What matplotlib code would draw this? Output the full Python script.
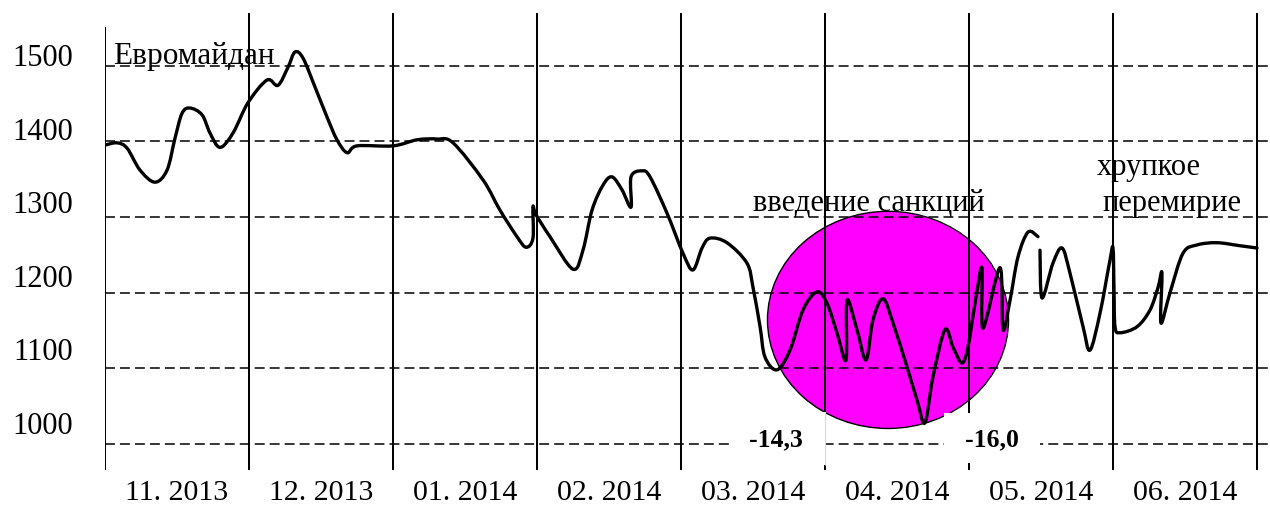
import numpy as np
import matplotlib
matplotlib.use("Agg")
import matplotlib.pyplot as plt
from matplotlib.path import Path
from matplotlib.patches import PathPatch, Ellipse, Rectangle

plt.rcParams['font.family'] = ['Liberation Serif', 'DejaVu Serif']

# подписи месяцев и оси значений
months = ["11. 2013", "12. 2013", "01. 2014", "02. 2014",
          "03. 2014", "04. 2014", "05. 2014", "06. 2014"]
y_ticks = [1000, 1100, 1200, 1300, 1400, 1500]

# время - в месяцах от начала 11.2013; первая часть кривой (до разрыва)
t1 = [0.000, 0.083, 0.153, 0.243, 0.347, 0.431, 0.486, 0.535, 0.590, 0.674,
      0.729, 0.799, 0.889, 0.993, 1.125, 1.201, 1.271, 1.319, 1.375, 1.458,
      1.542, 1.611, 1.681, 1.750, 2.000, 2.167, 2.306, 2.417, 2.625, 2.743,
      2.861, 2.924, 2.972, 2.972, 2.993, 3.090, 3.250, 3.319, 3.382, 3.458,
      3.521, 3.590, 3.653, 3.653, 3.729, 3.785, 3.903, 4.014, 4.083, 4.146,
      4.201, 4.319, 4.458, 4.500, 4.549, 4.583, 4.667, 4.757, 4.847, 4.944,
      5.014, 5.083, 5.146, 5.153, 5.222, 5.285, 5.333, 5.403, 5.472, 5.569,
      5.639, 5.694, 5.750, 5.833, 5.889, 5.951, 5.993, 6.042, 6.090, 6.097,
      6.215, 6.236, 6.285, 6.340, 6.410, 6.479]
v1 = [1395, 1398, 1391, 1362, 1346, 1362, 1404, 1437, 1444, 1435,
      1411, 1392, 1411, 1451, 1481, 1474, 1498, 1518, 1510, 1472,
      1432, 1402, 1385, 1394, 1394, 1402, 1403, 1398, 1349, 1309,
      1274, 1260, 1272, 1313, 1303, 1274, 1231, 1256, 1309, 1342,
      1353, 1336, 1313, 1353, 1361, 1353, 1305, 1252, 1230, 1259,
      1272, 1266, 1239, 1207, 1155, 1115, 1098, 1124, 1177, 1201,
      1186, 1147, 1111, 1190, 1151, 1111, 1164, 1192, 1160, 1102,
      1058, 1028, 1089, 1151, 1128, 1107, 1128, 1186, 1233, 1153,
      1233, 1151, 1190, 1247, 1280, 1274]

# вторая часть кривой (после разрыва)
t2 = [6.493, 6.507, 6.583, 6.646, 6.701, 6.792, 6.840, 6.910, 6.979, 7.000,
      7.007, 7.014, 7.049, 7.167, 7.257, 7.313, 7.340, 7.333, 7.396, 7.486,
      7.583, 7.722, 7.882, 8.000]
v2 = [1256, 1193, 1239, 1259, 1226, 1155, 1124, 1173, 1243, 1259,
      1204, 1155, 1147, 1155, 1177, 1207, 1226, 1160, 1200, 1252,
      1263, 1266, 1262, 1259]


def smooth_path(xs, ys):
    """сглаженная линия через точки (Катмулл-Ром -> кривые Безье)"""
    pts = np.column_stack([xs, ys]).astype(float)
    p = np.vstack([pts[0], pts, pts[-1]])
    verts = [pts[0]]
    codes = [Path.MOVETO]
    for i in range(1, len(p) - 2):
        c1 = p[i] + (p[i + 1] - p[i - 1]) / 6
        c2 = p[i + 1] - (p[i + 2] - p[i]) / 6
        verts += [c1, c2, p[i + 1]]
        codes += [Path.CURVE4] * 3
    return Path(verts, codes)


fig = plt.figure(figsize=(12.7, 5.08), dpi=100)
pos = [105 / 1270, 38 / 508, 1165 / 1270, 457 / 508]
ax = fig.add_axes(pos)
ax.set_xlim(0, 1165 / 144)
ax.set_ylim(965.6, 1569.6)
for s in ax.spines.values():
    s.set_visible(False)

# овал "введение санкций"
ax.add_patch(Ellipse((5.4375, 1164), 1.674, 287, facecolor='#ff00ff',
                     edgecolor='black', lw=1.0, zorder=1))

# сетка
ax.hlines(y_ticks, 0, 8.08, colors='black', lw=1.1,
          linestyles=[(0, (6.5, 3.3))], zorder=2)
n = len(months)
ax.vlines(np.arange(1, n + 1), 965.6, 1569.6, colors='black', lw=1.45, zorder=2)
ax.vlines([0], 965.6, 1551, colors='black', lw=1.45, zorder=2)

# белые подложки под подписями падения
ax.add_patch(Rectangle((4.34, 972), 0.667, 70, facecolor='white',
                       edgecolor='none', zorder=3))
ax.add_patch(Rectangle((5.826, 975), 0.667, 66, facecolor='white',
                       edgecolor='none', zorder=3))
ax.vlines([5], 972, 1042, colors='#d8d8d8', lw=0.8, zorder=3.1)

# кривая
for tt, vv in [(t1, v1), (t2, v2)]:
    ax.add_patch(PathPatch(smooth_path(tt, vv), fill=False, edgecolor='black',
                           lw=2.4, capstyle='round', joinstyle='round', zorder=4))

# подписи по оси X
ax.set_xticks(np.arange(n) + 0.5)
ax.set_xticklabels(months, fontsize=21.5)
ax.tick_params(axis='x', length=0, pad=7)
ax.set_yticks([])

# подписи по оси Y (отдельная ось, шаг подписей чуть меньше сетки)
ax2 = fig.add_axes(pos, frameon=False)
ax2.patch.set_visible(False)
ax2.set_xlim(ax.get_xlim())
ax2.set_ylim(936.1, 1557.1)
ax2.set_xticks([])
ax2.set_yticks(y_ticks)
ax2.set_yticklabels([str(v) for v in y_ticks], fontsize=22)
ax2.tick_params(axis='y', length=0, pad=23)

# надписи
ax.text(0.056, 1502, "Евромайдан", fontsize=22.5, va='baseline', zorder=5)
ax.text(4.5, 1308, "введение санкций", fontsize=22, va='baseline', zorder=5)
ax.text(6.889, 1355, "хрупкое", fontsize=22, va='baseline', zorder=5)
ax.text(6.924, 1308, "перемирие", fontsize=22, va='baseline', zorder=5)
ax.text(4.656, 1005, "-14,3", fontsize=18.5, fontweight='bold',
        ha='center', va='center', zorder=3.2)
ax.text(6.160, 1005, "-16,0", fontsize=18.5, fontweight='bold',
        ha='center', va='center', zorder=3.2)

fig.savefig("out.png", dpi=100)
